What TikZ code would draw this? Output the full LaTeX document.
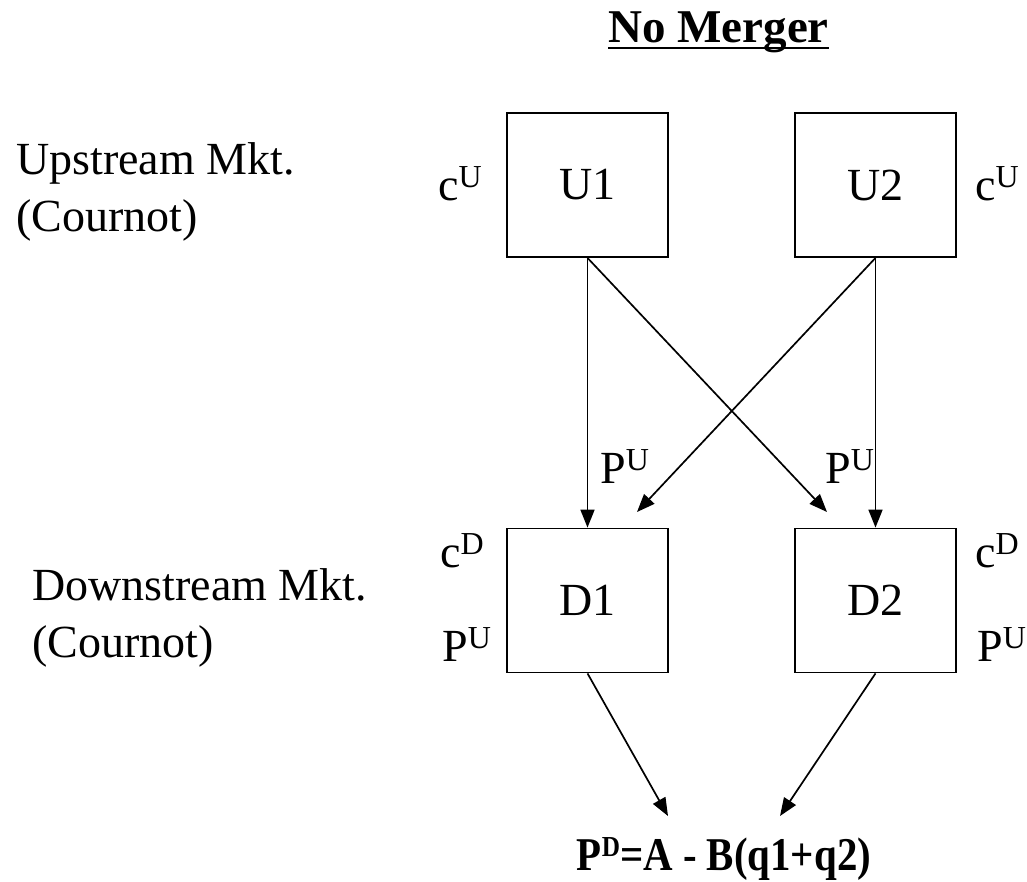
\documentclass[tikz,border=0pt]{standalone}
\usepackage{fontspec}
\usepackage{graphicx}
\setmainfont{Liberation Serif}
\usetikzlibrary{arrows.meta}
\newcommand\supr[1]{\raisebox{13pt}{\fontsize{32}{32}\selectfont #1}}
\newcommand\supb[1]{\raisebox{14pt}{\fontsize{29}{29}\selectfont\bfseries #1}}
\begin{document}
\begin{tikzpicture}[x=1pt,y=-1pt,
  every node/.style={inner sep=0pt, font=\fontsize{46}{57}\selectfont},
  firm/.style={draw, line width=1.8pt, minimum width=161pt, minimum height=144pt},
  lbl/.style={anchor=base west},
  conn/.style={line width=1.7pt, -{Triangle[length=18pt,width=14pt]}}]
\useasboundingbox (0,0) rectangle (1027,882);
% title
\node[anchor=base, font=\fontsize{47}{57}\selectfont\bfseries] (title) at (718.5,43) {No Merger};
\draw[line width=2.6pt] ([yshift=-5pt]title.base west) -- ([yshift=-5pt]title.base east);
% market labels
\node[lbl, align=left] (up) at (16,232) {Upstream Mkt.\\(Cournot)};
\node[lbl, align=left] (down) at (32,657) {Downstream Mkt.\\(Cournot)};
% firms
\node[firm] (U1) at (587.5,185) {U1};
\node[firm] (U2) at (875.5,185) {U2};
\node[firm] (D1) at (587.5,600.5) {D1};
\node[firm] (D2) at (875.5,600.5) {D2};
% cost labels
\node[lbl] (cu1) at (438,201) {c\supr{U}};
\node[lbl] (cu2) at (975,201) {c\supr{U}};
\node[lbl] (pum1) at (600,483) {P\supr{U}};
\node[lbl] (pum2) at (825,483) {P\supr{U}};
\node[lbl] (cd1) at (440,567) {c\supr{D}};
\node[lbl] (pd1) at (442,661) {P\supr{U}};
\node[lbl] (cd2) at (975,567) {c\supr{D}};
\node[lbl] (pd2) at (977,661) {P\supr{U}};
% demand
\node[anchor=base, font=\fontsize{47}{57}\selectfont\bfseries] (dem) at (724,870) {\scalebox{0.87}[1]{P\supb{D}=A - B(q1+q2)}};
% coordinates
\coordinate (t12) at (827,512);
\coordinate (t21) at (637,512);
\coordinate (td1) at (668,816);
\coordinate (td2) at (780,816);
% connectors
\draw[conn] (U1.south) -- (D1.north);
\draw[conn] (U1.south) -- (t12);
\draw[conn] (U2.south) -- (t21);
\draw[conn] (U2.south) -- (D2.north);
\draw[conn] (D1.south) -- (td1);
\draw[conn] (D2.south) -- (td2);
\end{tikzpicture}
\end{document}
